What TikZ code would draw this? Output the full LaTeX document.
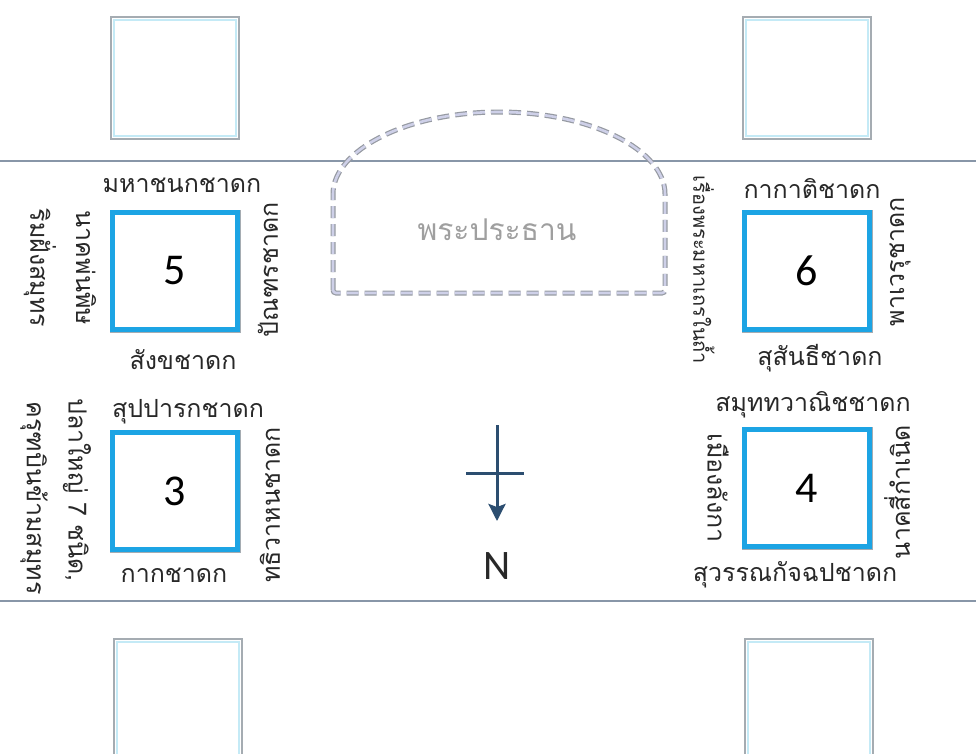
\documentclass[tikz,border=0pt]{standalone}
\usepackage{fontspec}
\setmainfont{Carlito}
\newfontfamily\thaifont[Script=Thai]{Loma}
\usetikzlibrary{positioning,arrows.meta,calc}

\definecolor{roadgray}{RGB}{136,150,168}
\definecolor{pillarblue}{RGB}{28,164,228}
\definecolor{ghostgray}{RGB}{165,172,178}
\definecolor{ghostcyan}{RGB}{196,234,246}
\definecolor{domegray}{RGB}{150,154,162}
\definecolor{domelilac}{RGB}{206,208,232}
\definecolor{textgray}{RGB}{40,40,40}
\definecolor{northblue}{RGB}{44,78,112}

\begin{document}
\begin{tikzpicture}[x=1pt,y=-1pt,>={Stealth[length=17pt,width=17pt,inset=3pt]},
  lbl/.style={inner sep=0pt,text=textgray,font=\thaifont\fontsize{25}{27}\selectfont},
  pillar/.style={draw=pillarblue,line width=5pt,fill=white,
    preaction={draw=ghostgray,line width=6pt},
    minimum width=125pt,minimum height=117pt,inner sep=0pt,
    font=\fontsize{44}{48}\selectfont},
  road/.style={draw=roadgray,line width=2pt},
  dome/.style={dash pattern=on 12pt off 6pt,rounded corners=3pt}]
\useasboundingbox (0,0) rectangle (976,753);
\fill[white] (0,0) rectangle (976,753);

% roads
\draw[road] (0,161) -- (976,161);
\draw[road] (0,601) -- (976,601);

% empty pillars outside the hall
\foreach \cx/\cy in {175/78, 807/78, 178/700, 809/700}{
  \draw[ghostgray,line width=2.5pt] ($(\cx,\cy)+(-64,-61)$) rectangle ($(\cx,\cy)+(64,61)$);
  \draw[ghostcyan,line width=1.4pt] ($(\cx,\cy)+(-61,-58)$) rectangle ($(\cx,\cy)+(61,58)$);
}

% principal Buddha image
\foreach \c/\w in {domegray/5pt, domelilac/2.6pt}
  \draw[dome,draw=\c,line width=\w] (333,293) -- (333,197)
    arc[start angle=180,end angle=360,x radius=166,y radius=85] -- (665,293) -- cycle;
\node[lbl,text=gray!75,font=\thaifont\fontsize{30}{32}\selectfont] (buddha) at (497,230) {พระประธาน};

% pillars
\node[pillar] (p5) at (175,271) {5};
\node[pillar] (p3) at (175,491) {3};
\node[pillar] (p6) at (807,271) {6};
\node[pillar] (p4) at (807,488) {4};

% pillar 5
\node[lbl] (p5n) at (182,185) {มหาชนกชาดก};
\node[lbl] (p5s) at (183,360) {สังขชาดก};
\node[lbl,rotate=90] (p5e) at (268,270) {ปัณฑรชาดก};
\node[lbl,rotate=-90] (p5w) at (86,268) {นาคพ่นพิษ};
\node[lbl,rotate=-90] (p5ww) at (40,268) {ริมฝั่งสมุทร};

% pillar 3
\node[lbl] (p3n) at (188,412) {สุปปารกชาดก};
\node[lbl] (p3s) at (174,575) {กากชาดก};
\node[lbl,rotate=90] (p3e) at (270,505) {ทธิวาหนชาดก};
\node[lbl,rotate=-90] (p3w) at (77,490) {ปลาใหญ่ 7 ชนิด,};
\node[lbl,rotate=-90] (p3ww) at (34,498) {ครุฑบินข้ามสมุทร};

% pillar 6
\node[lbl] (p6n) at (812,188) {กากาติชาดก};
\node[lbl] (p6s) at (820,358) {สุสันธีชาดก};
\node[lbl,rotate=90] (p6e) at (900,262) {พาเวรุชาดก};
\node[lbl,rotate=-90,font=\thaifont\fontsize{20}{22}\selectfont] (p6w) at (704,270) {เรื่องพระมหาเถรในถ้ำ};

% pillar 4
\node[lbl] (p4n) at (813,405) {สมุททวาณิชชาดก};
\node[lbl] (p4s) at (795,575) {สุวรรณกัจฉปชาดก};
\node[lbl,rotate=90] (p4e) at (897,492) {นาคสี่กำเนิด};
\node[lbl,rotate=-90] (p4w) at (718,488) {เมืองลังกา};

% north arrow
\coordinate (nTop) at (497,425);
\coordinate (nTip) at (497,521);
\coordinate (nBarL) at (466,473);
\coordinate (nBarR) at (524,473);
\draw[northblue,line width=3pt] (nBarL) -- (nBarR);
\draw[northblue,line width=3pt,->] (nTop) -- (nTip);
\node[inner sep=0pt,text=textgray,font=\fontsize{42}{44}\selectfont] (nLbl) at (497,566) {N};
\end{tikzpicture}
\end{document}
